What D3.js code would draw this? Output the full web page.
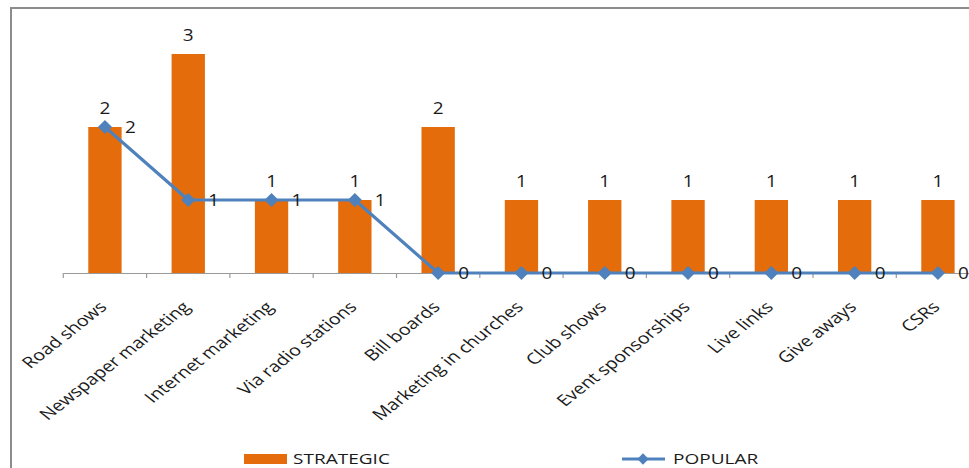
<!DOCTYPE html>
<html><head><meta charset="utf-8">
<script src="https://cdn.jsdelivr.net/npm/d3@7"></script>
<style>body{margin:0;background:#fff}svg{display:block}</style>
</head><body>
<script>
const categories = ["Road shows","Newspaper marketing","Internet marketing","Via radio stations","Bill boards","Marketing in churches","Club shows","Event sponsorships","Live links","Give aways","CSRs"];
const strategic = [2,3,1,1,2,1,1,1,1,1,1];
const popular = [2,1,1,1,0,0,0,0,0,0,0];
const seriesNames = ["STRATEGIC","POPULAR"];

const W = 969, H = 468;
const font = "'Open Sans', sans-serif";
const SX = 1.27; // horizontal stretch of the original picture
const svg = d3.select("body").append("svg").attr("width", W).attr("height", H);

// chart border
svg.append("rect").attr("x", 11).attr("y", 8).attr("width", 1000).attr("height", 500)
  .attr("fill", "none").attr("stroke", "#8c8c8c").attr("stroke-width", 2);

const x = d3.scaleBand().domain(categories).range([63.3, 63.3 + 83.3 * categories.length]).paddingInner(0).paddingOuter(0);
const y = d3.scaleLinear().domain([0, 3.5]).range([273, 17.5]);
const barW = x.bandwidth() * 0.4;
const cx = (d, i) => x(categories[i]) + x.bandwidth() / 2;

// bars
svg.selectAll("rect.bar").data(strategic).join("rect").attr("class", "bar")
  .attr("x", (d, i) => cx(d, i) - barW / 2)
  .attr("y", d => y(d)).attr("width", barW).attr("height", d => y(0) - y(d))
  .attr("fill", "#e46c0a");

// axis
const axis = d3.axisBottom(x).tickSize(0).tickFormat("");
const gx = svg.append("g").attr("transform", `translate(0,${y(0)})`).call(axis);
gx.select(".domain").attr("stroke", "#9a9a9a").attr("stroke-width", 1.2);
const bounds = d3.range(categories.length + 1).map(i => x.range()[0] + i * x.step());
svg.selectAll("line.tk").data(bounds).join("line").attr("class", "tk")
  .attr("x1", d => d).attr("x2", d => d).attr("y1", y(0)).attr("y2", y(0) + 5)
  .attr("stroke", "#9a9a9a").attr("stroke-width", 1.2);

// category labels
svg.selectAll("text.cat").data(categories).join("text").attr("class", "cat")
  .attr("transform", d => `translate(${x(d) + x.bandwidth() / 2 + 3},${y(0) + 35}) scale(${SX},1) rotate(-45)`)
  .attr("text-anchor", "end").attr("font-family", font).attr("font-size", 15.5).attr("fill", "#1a1a1a")
  .text(d => d);

// bar labels
svg.selectAll("text.bl").data(strategic).join("text").attr("class", "bl")
  .attr("transform", (d, i) => `translate(${cx(d, i)},${y(d) - 13}) scale(1.15,1)`)
  .attr("text-anchor", "middle").attr("font-family", font).attr("font-size", 16.5).attr("fill", "#1a1a1a")
  .text(d => d);

// line
const line = d3.line().x(cx).y(d => y(d));
svg.append("path").datum(popular).attr("d", line).attr("fill", "none")
  .attr("stroke", "#4f81bd").attr("stroke-width", 3.2).attr("stroke-linejoin", "round");
svg.selectAll("path.mk").data(popular).join("path").attr("class", "mk")
  .attr("d", d3.symbol().type(d3.symbolSquare).size(100)())
  .attr("transform", (d, i) => `translate(${cx(d, i)},${y(d)}) rotate(45)`)
  .attr("fill", "#4f81bd");
svg.selectAll("text.pl").data(popular).join("text").attr("class", "pl")
  .attr("transform", (d, i) => `translate(${cx(d, i) + 20},${y(d) + 6}) scale(1.15,1)`)
  .attr("font-family", font).attr("font-size", 16.5).attr("fill", "#1a1a1a")
  .text(d => d);

// legend
const lg = svg.append("g");
lg.append("rect").attr("x", 244).attr("y", 454).attr("width", 43).attr("height", 10).attr("fill", "#e46c0a");
lg.append("text").attr("transform", `translate(293,464) scale(${SX},1)`).attr("font-family", font).attr("font-size", 15).attr("fill", "#1a1a1a").text(seriesNames[0]);
lg.append("line").attr("x1", 622).attr("x2", 665).attr("y1", 459).attr("y2", 459).attr("stroke", "#4f81bd").attr("stroke-width", 3);
lg.append("path").attr("d", d3.symbol().type(d3.symbolSquare).size(64)()).attr("transform", "translate(643,459) rotate(45)").attr("fill", "#4f81bd");
lg.append("text").attr("transform", `translate(673,464) scale(${SX},1)`).attr("font-family", font).attr("font-size", 15).attr("fill", "#1a1a1a").text(seriesNames[1]);
</script>
</body></html>
